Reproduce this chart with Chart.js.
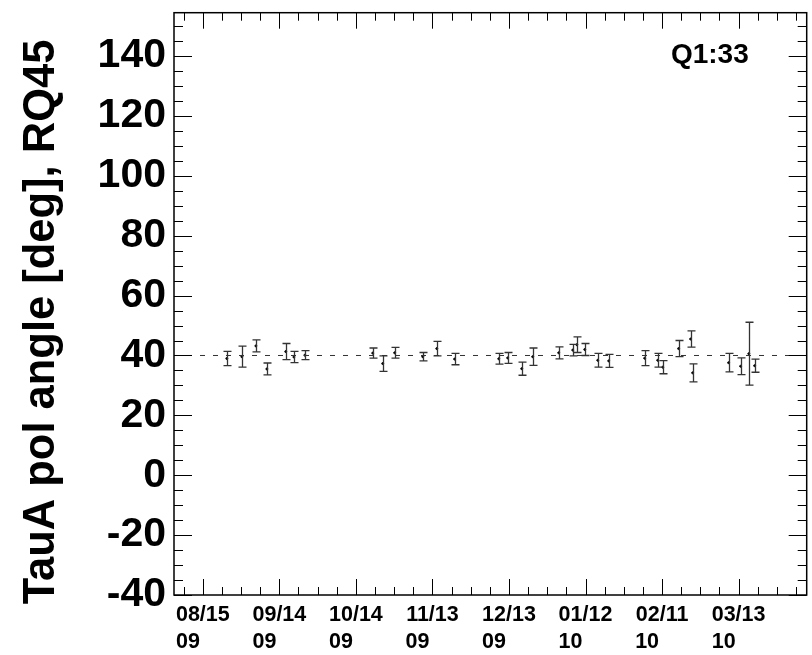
<!DOCTYPE html>
<html>
<head>
<meta charset="utf-8">
<script src="https://cdn.jsdelivr.net/npm/chart.js@4/dist/chart.umd.min.js"></script>
<style>
  html, body { margin: 0; padding: 0; background: #fff; }
</style>
</head>
<body>
<canvas id="polAngle" width="812" height="655"></canvas>
<script>
// x = days since 2009-08-15
const obsDays = [9.4, 15.3, 20.8, 25.1, 32.5, 35.7, 40.0, 66.6, 70.5, 75.2, 86.2, 91.7, 98.7,
  116, 119.5, 125, 129.3, 139.5, 145, 146.6, 149.7, 154.8, 159.1,
  173.2, 178.3, 180.3, 186.5, 191.2, 192, 206.1, 210.8, 214, 216.3];
const polAngle = [39, 39.6, 43.2, 35.5, 41.3, 39.5, 40.1, 40.8, 37.3, 40.9, 39.6, 42.3, 38.8,
  38.9, 39.2, 35.6, 39.6, 40.9, 41.8, 43.6, 42, 38.4, 38.2,
  39.1, 38.4, 36.1, 42.3, 45.5, 34.2, 37.6, 36.4, 40.6, 36.6];
const polAngleErr = [2.4, 3.5, 2, 2, 2.7, 1.9, 1.5, 1.7, 2.6, 1.8, 1.4, 2.4, 1.9,
  1.8, 1.8, 2.2, 2.9, 2, 1.9, 2.6, 2, 2.3, 2.2,
  2.5, 2.3, 2.2, 2.7, 2.7, 3, 3.1, 2.8, 10.5, 2.2];
const refAngle = 40;

const xTickDays = [0, 30, 60, 90, 120, 150, 180, 210];
// second line padded so it sits left-aligned under the first
const xTickLabels = [
  ["08/15", "09     "], ["09/14", "09     "], ["10/14", "09     "], ["11/13", "09     "],
  ["12/13", "09     "], ["01/12", "10     "], ["02/11", "10     "], ["03/13", "10     "],
];
const yTicks = [-40, -20, 0, 20, 40, 60, 80, 100, 120, 140];
const xRange = [-11.3, 236.7];
const yRange = [-40, 154.5];
const panelLabel = "Q1:33";

const FONT = "'Liberation Sans', Arial, Helvetica, sans-serif";

const errorBars = {
  id: "errorBars",
  afterDatasetsDraw(chart) {
    const { ctx, scales: { x, y } } = chart;
    ctx.save();
    ctx.strokeStyle = "#333";
    ctx.lineWidth = 1.3;
    ctx.beginPath();
    obsDays.forEach((d, i) => {
      const px = Math.round(x.getPixelForValue(d)) + 0.5;
      const top = y.getPixelForValue(polAngle[i] + polAngleErr[i]);
      const bot = y.getPixelForValue(polAngle[i] - polAngleErr[i]);
      ctx.moveTo(px, top); ctx.lineTo(px, bot);
      ctx.moveTo(px - 4, top); ctx.lineTo(px + 4, top);
      ctx.moveTo(px - 4, bot); ctx.lineTo(px + 4, bot);
    });
    ctx.stroke();
    ctx.restore();
  },
};

const rootFrame = {
  id: "rootFrame",
  afterDraw(chart) {
    const { ctx, chartArea: a, scales: { x, y } } = chart;
    ctx.save();
    ctx.strokeStyle = "#000";
    ctx.lineWidth = 1;
    ctx.beginPath();
    for (let d = xTickDays[0] - 30; d <= xRange[1]; d += 7.5) {
      if (d < xRange[0]) continue;
      const px = Math.round(x.getPixelForValue(d)) + 0.5;
      const len = d % 30 === 0 ? 16 : 8;
      ctx.moveTo(px, a.bottom); ctx.lineTo(px, a.bottom - len);
      ctx.moveTo(px, a.top); ctx.lineTo(px, a.top + len);
    }
    for (let v = yRange[0]; v <= yRange[1]; v += 5) {
      const py = Math.round(y.getPixelForValue(v)) + 0.5;
      const len = v % 20 === 0 ? 18 : 9;
      ctx.moveTo(a.left, py); ctx.lineTo(a.left + len, py);
      ctx.moveTo(a.right, py); ctx.lineTo(a.right - len, py);
    }
    ctx.stroke();
    ctx.lineWidth = 1.5;
    ctx.strokeRect(a.left, a.top, a.right - a.left, a.bottom - a.top);

    ctx.fillStyle = "#000";
    ctx.font = "bold 28px " + FONT;
    ctx.textAlign = "right";
    ctx.textBaseline = "middle";
    ctx.fillText(panelLabel, a.right - 58, 55);
    ctx.restore();
  },
};

const ctx = document.getElementById("polAngle").getContext("2d");
const polAngleChart = new Chart(ctx, {
  type: "scatter",
  data: {
    datasets: [
      {
        type: "line",
        data: [{ x: xRange[0], y: refAngle }, { x: xRange[1], y: refAngle }],
        borderColor: "#333",
        borderWidth: 1,
        borderDash: [5, 8],
        pointRadius: 0,
      },
      {
        data: obsDays.map((d, i) => ({ x: d, y: polAngle[i] })),
        backgroundColor: "#000",
        borderColor: "#000",
        pointRadius: 1,
      },
    ],
  },
  options: {
    responsive: false,
    animation: false,
    layout: { padding: { top: 12.7, right: 5.3, left: 0, bottom: 0 } },
    plugins: {
      legend: { display: false },
      tooltip: { enabled: false },
    },
    scales: {
      x: {
        type: "linear",
        min: xRange[0],
        max: xRange[1],
        grid: { display: false, drawTicks: false },
        border: { display: false },
        afterBuildTicks: (scale) => {
          scale.ticks = xTickDays.map((v) => ({ value: v }));
        },
        afterFit: (scale) => {
          scale.height = 60;
          scale.paddingLeft = 0;
          scale.paddingRight = 0;
        },
        ticks: {
          autoSkip: false,
          maxRotation: 0,
          padding: 7,
          color: "#000",
          font: { family: FONT, size: 21.5, weight: "bold", lineHeight: 1.24 },
          callback: (v) => xTickLabels[xTickDays.indexOf(v)],
        },
      },
      y: {
        min: yRange[0],
        max: yRange[1],
        grid: { display: false, drawTicks: false },
        border: { display: false },
        afterBuildTicks: (scale) => {
          scale.ticks = yTicks.map((v) => ({ value: v }));
        },
        afterFit: (scale) => {
          scale.width = 174;
          scale.paddingTop = 0;
          scale.paddingBottom = 0;
        },
        ticks: {
          padding: 8,
          color: "#000",
          font: { family: FONT, size: 41, weight: "bold" },
        },
        title: {
          display: true,
          // trailing spaces nudge the centred title down a little
          text: "TauA pol angle [deg], RQ45   ",
          align: "center",
          color: "#000",
          padding: { top: 20 },
          font: { family: FONT, size: 43.5, weight: "bold", lineHeight: 1 },
        },
      },
    },
  },
  plugins: [errorBars, rootFrame],
});
</script>
</body>
</html>
